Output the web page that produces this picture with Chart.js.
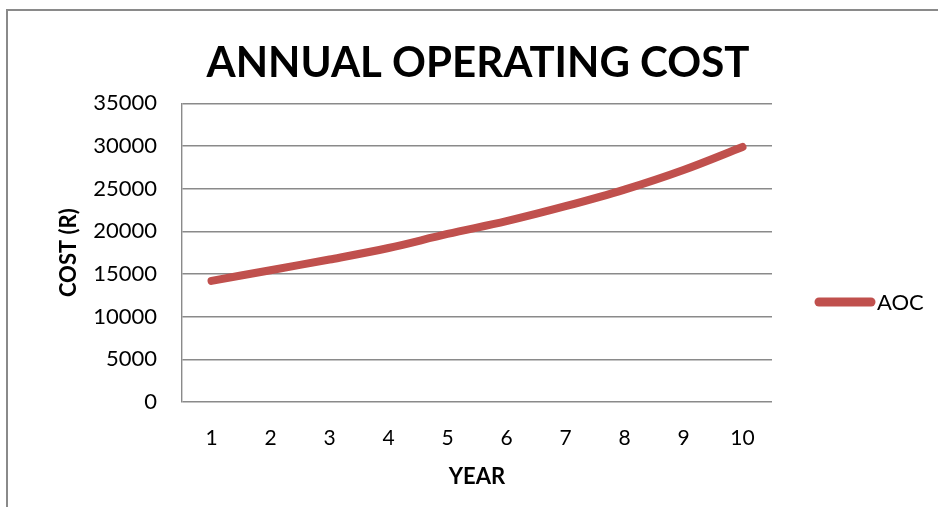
<!DOCTYPE html>
<html>
<head>
<meta charset="utf-8">
<title>Annual Operating Cost</title>
<script src="https://cdn.jsdelivr.net/npm/chart.js@4"></script>
<style>
  body { margin: 0; background: #fff; overflow: hidden; }
  #wrap { position: relative; width: 938px; height: 507px; }
  /* chart frame, runs off the right and bottom edges */
  #frame {
    position: absolute; left: 6px; top: 9px; width: 960px; height: 520px;
    border-top: 2px solid #8a8a8a; border-left: 2px solid #8a8a8a;
  }
  #chart { position: absolute; left: 0; top: 0; }
</style>
</head>
<body>
<div id="wrap">
  <div id="frame"></div>
  <canvas id="chart" width="938" height="507"></canvas>
</div>
<script>
const years = ['1', '2', '3', '4', '5', '6', '7', '8', '9', '10'];
const aoc = [14200, 15450, 16700, 18050, 19700, 21200, 22950, 24900, 27200, 29900];
const yTicks = [0, 5000, 10000, 15000, 20000, 25000, 30000, 35000];

const FONT = 'Lato, "Open Sans", sans-serif';
const RED = '#C0504D';
const GRID = '#8a8a8a';

// legend on the right: thick line sample + series name
const sideLegend = {
  id: 'sideLegend',
  afterDraw(chart) {
    const ctx = chart.ctx;
    const ds = chart.data.datasets[0];
    const y = 302;
    ctx.save();
    ctx.strokeStyle = ds.borderColor;
    ctx.lineWidth = 9;
    ctx.lineCap = 'round';
    ctx.beginPath();
    ctx.moveTo(819, y);
    ctx.lineTo(871, y);
    ctx.stroke();
    ctx.fillStyle = '#000';
    ctx.font = '22px ' + FONT;
    ctx.textBaseline = 'middle';
    ctx.fillText(ds.label, 877, y + 1);
    ctx.restore();
  }
};

const ctx = document.getElementById('chart').getContext('2d');
new Chart(ctx, {
  type: 'line',
  data: {
    labels: years,
    datasets: [{
      label: 'AOC',
      data: aoc,
      borderColor: RED,
      backgroundColor: RED,
      borderWidth: 8,
      borderCapStyle: 'round',
      borderJoinStyle: 'round',
      tension: 0.35,
      pointRadius: 0,
      fill: false
    }]
  },
  options: {
    responsive: false,
    animation: false,
    layout: { padding: { left: 18, right: 0, top: 0, bottom: 0 } },
    plugins: {
      legend: { display: false },
      tooltip: { enabled: false },
      title: {
        display: true,
        text: 'ANNUAL OPERATING COST',
        color: '#000',
        font: { family: FONT, size: 42, weight: 'bold', lineHeight: 1.2 },
        padding: { top: 38, bottom: 15 }
      }
    },
    scales: {
      x: {
        offset: true,
        grid: { display: false, drawTicks: false },
        border: { display: false },
        ticks: { color: '#000', padding: 24, font: { family: FONT, size: 21 } },
        title: {
          display: true,
          text: 'YEAR',
          color: '#000',
          font: { family: FONT, size: 22, weight: 'bold' },
          padding: { top: 0, bottom: 17 }
        },
        afterFit(scale) { scale.height = 105; }
      },
      y: {
        min: 0,
        max: 35000,
        grid: { color: GRID, lineWidth: 1.4, drawTicks: false },
        border: { display: true, color: GRID, width: 1.4 },
        afterBuildTicks(scale) { scale.ticks = yTicks.map(v => ({ value: v })); },
        ticks: {
          color: '#000',
          padding: 25,
          font: { family: FONT, size: 22 },
          callback: v => String(v)
        },
        title: {
          display: true,
          text: 'COST (R)',
          color: '#000',
          font: { family: FONT, size: 22, weight: 'bold' },
          padding: { top: 38, bottom: 0 }
        },
        afterFit(scale) { scale.width = 164; }
      },
      // empty axis on the right that keeps room for the legend
      side: {
        position: 'right',
        display: true,
        grid: { display: false, drawTicks: false },
        border: { display: false },
        ticks: { display: false },
        afterFit(scale) { scale.width = 166; }
      }
    }
  },
  plugins: [sideLegend]
});
</script>
</body>
</html>
